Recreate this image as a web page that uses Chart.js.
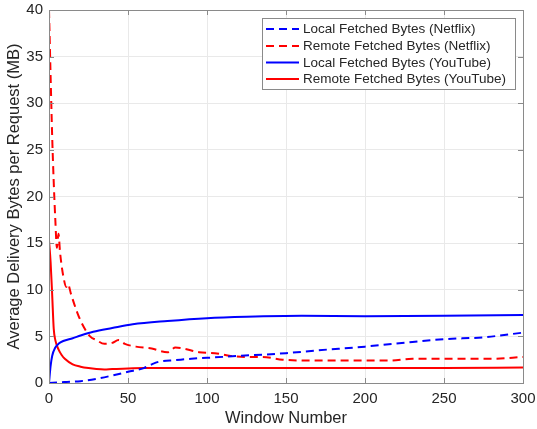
<!DOCTYPE html>
<html>
<head>
<meta charset="utf-8">
<script src="https://cdn.jsdelivr.net/npm/chart.js@4.4.1/dist/chart.umd.min.js"></script>
<style>
  html, body { margin: 0; padding: 0; background: #ffffff; }
  #wrap { width: 537px; height: 429px; }
</style>
</head>
<body>
<div id="wrap"><canvas id="c" width="537" height="429"></canvas></div>
<script>
// ---- Data ----
const seriesLabels = [
  'Local Fetched Bytes (Netflix)',
  'Remote Fetched Bytes (Netflix)',
  'Local Fetched Bytes (YouTube)',
  'Remote Fetched Bytes (YouTube)'
];

const netflixLocalX = [0, 5, 10, 20, 30, 40, 50, 60, 65, 70, 80, 90, 100, 120, 150, 170, 200, 230, 250, 275, 300];
const netflixLocalY = [0, 0.05, 0.1, 0.2, 0.45, 0.8, 1.2, 1.6, 2.0, 2.3, 2.45, 2.6, 2.7, 2.9, 3.2, 3.5, 3.9, 4.4, 4.7, 4.9, 5.4];

const netflixRemoteX = [0, 1, 2, 3, 4, 5, 6, 7, 9, 11, 12, 14, 18, 22, 26, 30, 35, 40, 44, 48, 55, 65, 75, 80, 85, 95, 105, 115, 125, 135, 148, 170, 200, 215, 230, 250, 280, 300];
const netflixRemoteY = [40, 33, 26.5, 21.5, 17.5, 14.5, 16, 14, 11.5, 10.3, 10.6, 9.5, 7.5, 6, 5, 4.6, 4.2, 4.3, 4.6, 4.2, 3.9, 3.7, 3.3, 3.8, 3.7, 3.3, 3.2, 2.9, 2.8, 2.8, 2.5, 2.4, 2.4, 2.4, 2.6, 2.6, 2.6, 2.8];

const youtubeLocalX = [0, 1, 2, 4, 6, 9, 15, 20, 28, 40, 53, 75, 100, 125, 160, 200, 250, 300];
const youtubeLocalY = [0, 1.8, 2.9, 3.8, 4.2, 4.5, 4.8, 5.1, 5.5, 5.9, 6.3, 6.65, 6.95, 7.1, 7.2, 7.15, 7.2, 7.3];

const youtubeRemoteX = [0, 1, 2, 3, 4, 6, 8, 10, 15, 20, 25, 30, 35, 40, 50, 60, 100, 150, 200, 250, 300];
const youtubeRemoteY = [15.3, 13, 9.5, 5.8, 4.6, 3.6, 3.0, 2.6, 2.0, 1.75, 1.6, 1.5, 1.45, 1.5, 1.55, 1.6, 1.6, 1.6, 1.6, 1.6, 1.65];

const xTicks = [0, 50, 100, 150, 200, 250, 300];
const yTicks = [0, 5, 10, 15, 20, 25, 30, 35, 40];

// ---- Helpers ----
function pts(xs, ys) { return xs.map((x, i) => ({ x: x, y: ys[i] })); }

const FONT = '"Liberation Sans", Arial, Helvetica, sans-serif';
const TEXT = '#262626';
const AXIS = '#8a8a8a';
const GRID = '#e9e9e9';

const styles = [
  { color: '#0000ff', dash: [8, 5] },
  { color: '#ff0000', dash: [8, 5] },
  { color: '#0000ff', dash: [] },
  { color: '#ff0000', dash: [] }
];
const seriesData = [
  pts(netflixLocalX, netflixLocalY),
  pts(netflixRemoteX, netflixRemoteY),
  pts(youtubeLocalX, youtubeLocalY),
  pts(youtubeRemoteX, youtubeRemoteY)
];

const datasets = seriesData.map((d, i) => ({
  label: seriesLabels[i],
  data: d,
  borderColor: styles[i].color,
  backgroundColor: styles[i].color,
  borderDash: styles[i].dash,
  borderWidth: 2,
  pointRadius: 0,
  fill: false,
  cubicInterpolationMode: 'monotone'
}));

// Frame + inward tick marks (MATLAB style)
const framePlugin = {
  id: 'frame',
  afterDatasetsDraw(chart) {
    const { ctx, chartArea: a, scales } = chart;
    ctx.save();
    ctx.strokeStyle = AXIS;
    ctx.lineWidth = 1;
    const tl = 5;
    ctx.beginPath();
    xTicks.forEach(v => {
      const px = Math.round(scales.x.getPixelForValue(v)) + 0.5;
      ctx.moveTo(px, a.bottom); ctx.lineTo(px, a.bottom - tl);
      ctx.moveTo(px, a.top); ctx.lineTo(px, a.top + tl);
    });
    yTicks.forEach(v => {
      const py = Math.round(scales.y.getPixelForValue(v)) + 0.5;
      ctx.moveTo(a.left, py); ctx.lineTo(a.left + tl, py);
      ctx.moveTo(a.right, py); ctx.lineTo(a.right - tl, py);
    });
    ctx.stroke();
    ctx.strokeRect(Math.round(a.left) + 0.5, Math.round(a.top) + 0.5,
                   Math.round(a.right - a.left), Math.round(a.bottom - a.top));
    ctx.restore();
  }
};

// Legend box inside the axes (north-east)
const legendPlugin = {
  id: 'boxLegend',
  afterDraw(chart) {
    const { ctx } = chart;
    const bx = 262.5, by = 18.5, bw = 253, bh = 71;
    ctx.save();
    ctx.fillStyle = '#ffffff';
    ctx.fillRect(bx, by, bw, bh);
    ctx.strokeStyle = AXIS;
    ctx.lineWidth = 1;
    ctx.strokeRect(bx, by, bw, bh);
    ctx.font = '13.5px ' + FONT;
    ctx.textBaseline = 'middle';
    ctx.textAlign = 'left';
    const rows = [29, 46, 62.5, 79];
    chart.data.datasets.forEach((ds, i) => {
      const y = rows[i];
      ctx.strokeStyle = ds.borderColor;
      ctx.lineWidth = 2;
      ctx.setLineDash(ds.borderDash);
      ctx.beginPath();
      ctx.moveTo(266, y); ctx.lineTo(299, y);
      ctx.stroke();
      ctx.setLineDash([]);
      ctx.fillStyle = TEXT;
      ctx.fillText(ds.label, 303, y + 0.5);
    });
    ctx.restore();
  }
};

function noPad(scale) {
  scale.paddingLeft = 0; scale.paddingRight = 0;
  scale.paddingTop = 0; scale.paddingBottom = 0;
}

new Chart(document.getElementById('c'), {
  type: 'line',
  data: { datasets: datasets },
  options: {
    responsive: false,
    animation: false,
    devicePixelRatio: 1,
    layout: { padding: { top: 10, right: 14, left: 0, bottom: 0 } },
    plugins: { legend: { display: false }, tooltip: { enabled: false } },
    scales: {
      x: {
        type: 'linear',
        min: 0, max: 300,
        afterBuildTicks(scale) { scale.ticks = xTicks.map(v => ({ value: v })); },
        afterFit(scale) { scale.height = 46; noPad(scale); },
        grid: { color: GRID, drawTicks: false, lineWidth: 1 },
        border: { display: false },
        ticks: { color: TEXT, font: { family: FONT, size: 15 }, padding: 7, maxRotation: 0 },
        title: { display: true, text: 'Window Number', color: TEXT,
                 font: { family: FONT, size: 16.5 }, padding: { top: 0, bottom: 1 } }
      },
      y: {
        type: 'linear',
        min: 0, max: 40,
        afterBuildTicks(scale) { scale.ticks = yTicks.map(v => ({ value: v })); },
        afterFit(scale) { scale.width = 49; noPad(scale); },
        grid: { color: GRID, drawTicks: false, lineWidth: 1 },
        border: { display: false },
        ticks: { color: TEXT, font: { family: FONT, size: 15 }, padding: 6 },
        title: { display: true, text: 'Average Delivery Bytes per Request (MB)', color: TEXT,
                 font: { family: FONT, size: 16.5 }, padding: { top: 5, bottom: 0 } }
      }
    }
  },
  plugins: [framePlugin, legendPlugin]
});
</script>
</body>
</html>
